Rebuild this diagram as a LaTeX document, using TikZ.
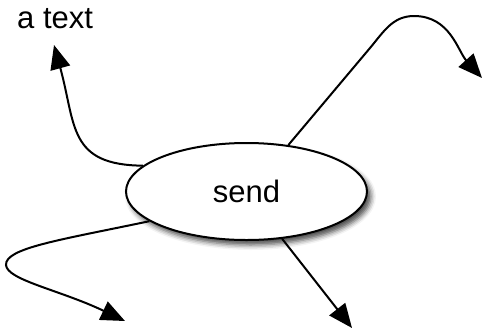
\documentclass[tikz,border=0pt]{standalone}
\usepackage{fontspec}
\setmainfont{Liberation Sans}
\usetikzlibrary{shapes.geometric,arrows.meta,shadows.blur}
\begin{document}
\begin{tikzpicture}[x=1pt,y=-1pt,
  conn/.style={line width=2pt, -{Triangle[length=24pt,width=20pt]}},
  bubble/.style={ellipse, draw, line width=2pt, fill=white,
    minimum width=241pt, minimum height=97pt, inner sep=0pt,
    font=\fontsize{31}{36}\selectfont,
    blur shadow={shadow xshift=4pt, shadow yshift=-5pt, shadow blur radius=5pt, shadow opacity=70}},
  lbl/.style={inner sep=0pt, font=\fontsize{31}{36}\selectfont}]
\useasboundingbox (0,0) rectangle (485,330);
\node[bubble] (send) at (246.5,191.5) {send};
\node[lbl, anchor=base west] (atext) at (17,28) {a text};
\coordinate (t1) at (54,45);
\coordinate (t2) at (482,78);
\coordinate (t3) at (125,321);
\coordinate (t4) at (352,328);
\draw[conn] (send.166) .. controls (68,165) and (76,125) .. (t1);
\draw[conn] (send.48) -- (370,48) to[out=50,in=180] (414,16) to[out=0,in=132] (t2);
\draw[conn] (send.197) .. controls (60,240) and (5,248) .. (6,265) .. controls (7,280) and (60,290) .. (t3);
\draw[conn] (send.307) -- (t4);
\end{tikzpicture}
\end{document}
